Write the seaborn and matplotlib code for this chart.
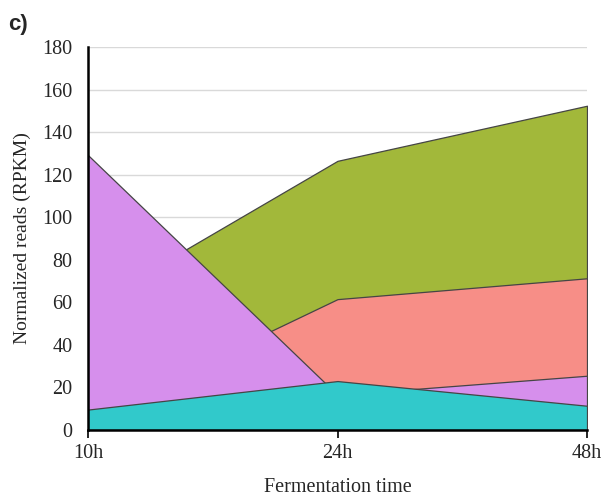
import matplotlib
matplotlib.use("Agg")
import matplotlib.pyplot as plt
import seaborn as sns
import numpy as np
import pandas as pd

times = ["10h", "24h", "48h"]
green = [58, 126.5, 152.4]
red = [5.4, 61.5, 71.3]
purple = [129.2, 16.5, 25.5]
cyan = [9.6, 23.0, 11.4]
yticks = [0, 20, 40, 60, 80, 100, 120, 140, 160, 180]

series = [("green", green, "#A2B83A"), ("red", red, "#F78E87"),
          ("purple", purple, "#D68FEC"), ("cyan", cyan, "#31C9CB")]

sns.set_theme(style="white")
plt.rcParams['font.family'] = ['Liberation Serif', 'DejaVu Serif']

fig = plt.figure(figsize=(6.04, 4.98), dpi=100)
ax = fig.add_axes([88/604, 68/498, (587-88)/604, (430-47)/498])

x = np.arange(len(times))
for i, (name, vals, col) in enumerate(series):
    ax.fill_between(x, vals, 0, facecolor=col, edgecolor="#454545", linewidth=0.9, zorder=2 + i)

ax.set_xlim(0, len(times) - 1)
ax.set_ylim(0, 180)
ax.set_xticks(x)
ax.set_xticklabels(times)
ax.set_yticks(yticks)
ax.grid(axis="y", color="#d9d9d9", linewidth=1.0, zorder=0)
ax.set_axisbelow(True)
for s in ["top", "right"]:
    ax.spines[s].set_visible(False)
for s in ["left", "bottom"]:
    ax.spines[s].set_color("black")
    ax.spines[s].set_linewidth(1.8)
    ax.spines[s].set_zorder(10)
ax.tick_params(axis="x", bottom=True, length=6, width=1.2, color="black", labelsize=14.5, pad=4)
ax.tick_params(axis="y", left=False, length=0, labelsize=14.5, pad=11)
ax.set_xlabel("Fermentation time", fontsize=14.5, labelpad=11)
ax.set_ylabel("Normalized reads (RPKM)", fontsize=14, labelpad=8)

fig.text(8/604, 1 - 30/498, "c)", fontsize=16, fontweight="bold", family=["Liberation Sans", "DejaVu Sans"])

fig.savefig("out.png", dpi=100)
